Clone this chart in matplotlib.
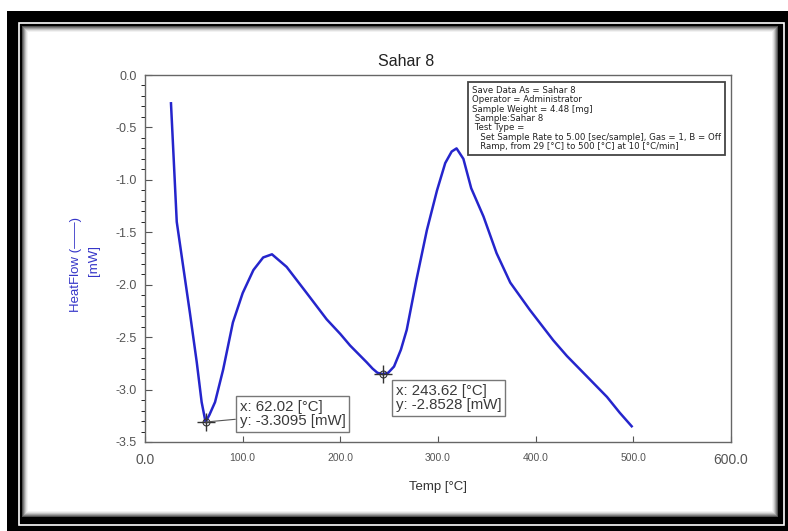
import matplotlib
matplotlib.use('Agg')
import matplotlib.pyplot as plt
from matplotlib.patches import Rectangle
from matplotlib.ticker import MultipleLocator

plt.rcParams['font.family'] = ['Liberation Sans', 'DejaVu Sans']

# values
temp = [26.6, 28.7, 32.5, 39, 46, 53, 58, 62.0, 66, 71.7, 80, 90, 100, 111,
        121, 130, 145, 165.6, 186, 200, 210, 227, 233, 238, 243.6, 249, 255,
        262, 268, 278, 288.6, 299, 307.4, 314, 319, 326, 334, 346.6, 360,
        374, 394, 418, 432, 452, 473, 486, 498.3]
heatflow = [-0.27, -0.67, -1.40, -1.82, -2.27, -2.74, -3.12, -3.31, -3.24,
            -3.12, -2.81, -2.36, -2.08, -1.86, -1.74, -1.71, -1.83, -2.08,
            -2.33, -2.47, -2.58, -2.74, -2.80, -2.84, -2.853, -2.84, -2.78,
            -2.62, -2.43, -1.95, -1.48, -1.10, -0.84, -0.73, -0.70, -0.80,
            -1.08, -1.35, -1.70, -1.98, -2.24, -2.53, -2.68, -2.87, -3.07,
            -3.22, -3.35]
peaks_x = [62.02, 243.62]
peaks_y = [-3.3095, -2.8528]
xtick_vals = [0, 100, 200, 300, 400, 500, 600]
info_lines = [
    'Save Data As = Sahar 8',
    'Operator = Administrator',
    'Sample Weight = 4.48 [mg]',
    ' Sample:Sahar 8',
    ' Test Type =',
    '   Set Sample Rate to 5.00 [sec/sample], Gas = 1, B = Off',
    '   Ramp, from 29 [\u00b0C] to 500 [\u00b0C] at 10 [\u00b0C/min]',
]

W, H = 788, 531
fig = plt.figure(figsize=(W / 100, H / 100), dpi=100)


def frac_rect(x0, y0, x1, y1, **kw):
    # rectangle in pixel coords (top-left origin) -> figure fraction
    return Rectangle((x0 / W, 1 - y1 / H), (x1 - x0) / W, (y1 - y0) / H,
                     transform=fig.transFigure, zorder=-10, **kw)


# screenshot frame
fig.patches.append(frac_rect(7, 11, 792, 535, facecolor='black', edgecolor='none'))
fig.patches.append(frac_rect(18.5, 23, 783.5, 524.5, facecolor='none',
                             edgecolor='white', lw=1.2))
shades = ['#505050', '#7a7a7a', '#a0a0a0', '#c4c4c4', '#e0e0e0', '#f2f2f2']
for i, c in enumerate(shades):
    fig.patches.append(frac_rect(22 + i, 26 + i, 778 - i, 517 - i,
                                 facecolor=c, edgecolor='none'))
fig.patches.append(frac_rect(28, 32, 772, 511, facecolor='white', edgecolor='none'))

ax = fig.add_axes([145 / W, 1 - 442 / H, (731 - 145) / W, (442 - 75) / H])
ax.set_facecolor('white')
ax.plot(temp, heatflow, color='#2525cc', lw=1.8, zorder=3,
        solid_joinstyle='round')
ax.plot(peaks_x, peaks_y, '+', color='#333333', ms=13, mew=1.0, zorder=4)
ax.plot(peaks_x, peaks_y, 'o', mfc='none', mec='#333333', ms=5, mew=0.8, zorder=4)

ax.set_xlim(0, 600)
ax.set_ylim(-3.5, 0)
ax.set_xticks(xtick_vals)
ax.set_xticklabels(['%.1f' % v for v in xtick_vals])
ax.yaxis.set_major_locator(MultipleLocator(0.5))
ax.yaxis.set_minor_locator(MultipleLocator(0.1))
ax.yaxis.set_major_formatter(plt.FormatStrFormatter('%.1f'))
ax.tick_params(direction='in', colors='#555555', labelcolor='#555555')
ax.tick_params(axis='y', which='major', length=5, labelsize=9, pad=6)
ax.tick_params(axis='y', which='minor', length=3)
ax.tick_params(axis='x', length=4, labelsize=7.5, pad=8)
for i, lab in enumerate(ax.get_xticklabels()):
    if i in (0, len(xtick_vals) - 1):
        lab.set_fontsize(10)
for s in ax.spines.values():
    s.set_color('#666666')
    s.set_linewidth(1.0)

box = dict(boxstyle='square,pad=0.25', fc='white', ec='#777777', lw=1.0)
ax.annotate('x: %.2f [\u00b0C]\ny: %.4f [mW]' % (peaks_x[0], peaks_y[0]),
            xy=(peaks_x[0], peaks_y[0]), xytext=(34, 8), textcoords='offset pixels',
            ha='left', va='center', fontsize=10.8, color='#3a3a3a', bbox=box,
            linespacing=1.0,
            arrowprops=dict(arrowstyle='-', color='#555555', lw=0.8,
                            shrinkA=0, shrinkB=0), zorder=5)
ax.annotate('x: %.2f [\u00b0C]\ny: %.4f [mW]' % (peaks_x[1], peaks_y[1]),
            xy=(peaks_x[1], peaks_y[1]), xytext=(13, -24), textcoords='offset pixels',
            ha='left', va='center', fontsize=10.8, color='#3a3a3a', bbox=box,
            linespacing=1.0, zorder=5)

fig.text(472 / W, 1 - 86 / H, '\n'.join(info_lines), ha='left', va='top',
         fontsize=6.2, linespacing=1.05, color='#222222', family='DejaVu Sans',
         bbox=dict(boxstyle='square,pad=0.45', fc='white', ec='#444444', lw=1.3))

fig.text(406 / W, 1 - 62 / H, 'Sahar 8', ha='center', va='center',
         fontsize=11.5, color='#222222')
fig.text(438 / W, 1 - 487 / H, 'Temp [\u00b0C]', ha='center', va='center',
         fontsize=9.5, color='#333333')
fig.text(76 / W, 1 - 265 / H, 'HeatFlow (\u2014\u2014)', rotation=90,
         ha='center', va='center', fontsize=9.5, color='#3535c8')
fig.text(94 / W, 1 - 260 / H, '[mW]', rotation=90, ha='center', va='center',
         fontsize=9.5, color='#3535c8')

fig.savefig('out.png', dpi=100, facecolor='white')
